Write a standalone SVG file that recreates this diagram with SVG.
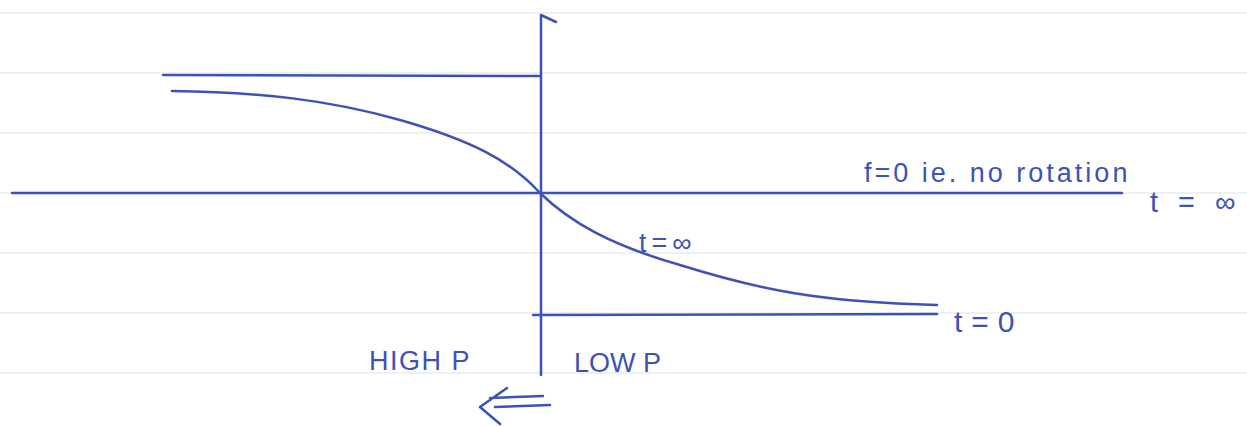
<svg xmlns="http://www.w3.org/2000/svg" width="1247" height="426" viewBox="0 0 1247 426">
<style>
.rule{stroke:#eef1f3;stroke-width:2}
.ink{fill:none;stroke:#3d52b6;stroke-width:2.5;stroke-linecap:round;stroke-linejoin:round}
.txt{font-family:"Liberation Sans",sans-serif;fill:#3d52b6;font-size:27px}
</style>
<rect width="1247" height="426" fill="#ffffff"/>
<g id="paper">
<line class="rule" x1="0" y1="13" x2="1247" y2="13"/>
<line class="rule" x1="0" y1="73" x2="1247" y2="73"/>
<line class="rule" x1="0" y1="133" x2="1247" y2="133"/>
<line class="rule" x1="0" y1="193" x2="1247" y2="193"/>
<line class="rule" x1="0" y1="253" x2="1247" y2="253"/>
<line class="rule" x1="0" y1="313" x2="1247" y2="313"/>
<line class="rule" x1="0" y1="373" x2="1247" y2="373"/>
</g>
<g id="connectors">
<path id="y-axis" class="ink" d="M541 375 L541 15 L556 22"/>
<path id="x-axis" class="ink" d="M12 193 L1122 193"/>
<path id="upper-limit" class="ink" d="M163 75 L540 76"/>
<path id="lower-limit" class="ink" d="M533 315 L937 314"/>
<path id="profile" class="ink" d="M172 91 C260 92 330 100 400 120 C470 140 510 160 540 193 C570 222 610 245 680 265 C760 290 820 302 937 305"/>
<path id="flow-arrow" class="ink" d="M490 398 L543 396 M495 407 L550 405 M507 388 L480 407 L500 424"/>
</g>
<g id="labels">
<text class="txt" x="864" y="182" style="letter-spacing:3px">f=0  ie. no rotation</text>
<text class="txt" x="1150" y="212" style="font-size:29px;letter-spacing:6px">t = ∞</text>
<text class="txt" x="639" y="252" style="letter-spacing:5px">t=∞</text>
<text class="txt" x="954" y="332" style="font-size:30px;letter-spacing:9px">t=0</text>
<text class="txt" x="369" y="370" style="letter-spacing:1.5px">HIGH  P</text>
<text class="txt" x="574" y="372">LOW P</text>
</g>
</svg>
